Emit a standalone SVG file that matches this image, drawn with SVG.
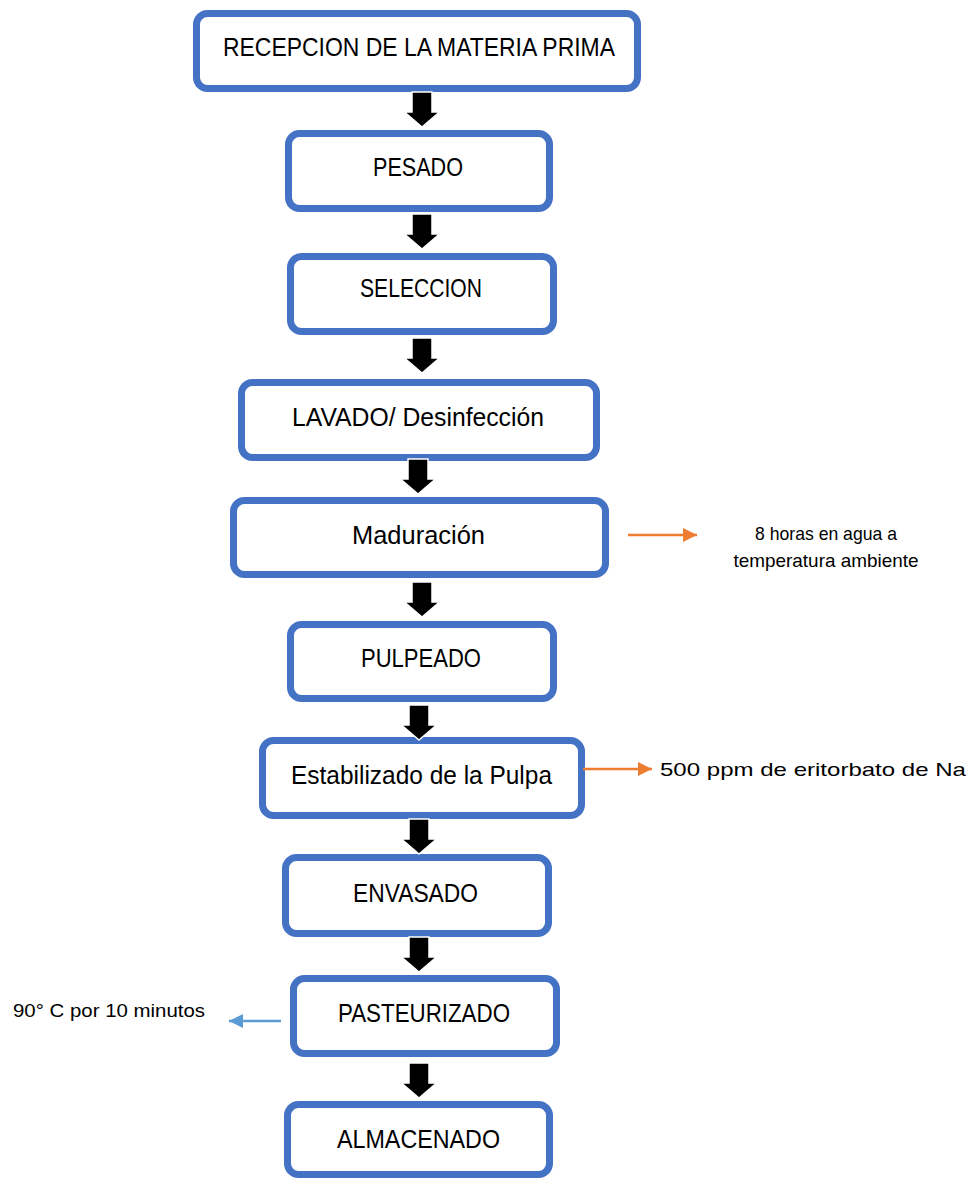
<svg xmlns="http://www.w3.org/2000/svg" xmlns:xlink="http://www.w3.org/1999/xlink" width="974" height="1178" viewBox="0 0 974 1178">
<style>
.box{fill:#fff;stroke:#4472C4;stroke-width:7}
.t{font-family:"Liberation Sans",Arial,sans-serif;font-size:26px;fill:#000;text-anchor:middle}
.s{font-family:"Liberation Sans",Arial,sans-serif;font-size:19px;fill:#000}
.blk{fill:#000;stroke:#fff;stroke-width:1.5}
.or{stroke:#ED7D31;stroke-width:2.5;fill:none}
.bl{stroke:#5B9BD5;stroke-width:2.5;fill:none}
</style>
<defs>
<path id="blk" class="blk" d="M-10,-35 h20 v20 h7.5 L0,0 L-17.5,-15 h7.5 Z"/>
<marker id="mo" markerUnits="userSpaceOnUse" markerWidth="15" markerHeight="15" refX="14" refY="7" orient="auto"><path d="M0,0 L14,7 L0,14 Z" fill="#ED7D31"/></marker>
<marker id="mb" markerUnits="userSpaceOnUse" markerWidth="15" markerHeight="15" refX="14" refY="7" orient="auto"><path d="M0,0 L14,7 L0,14 Z" fill="#5B9BD5"/></marker>
</defs>
<rect width="974" height="1178" fill="#fff"/>
<g id="n1"><rect class="box" x="196.5" y="13.5" width="441" height="75" rx="11"/><text class="t" x="419" y="56" textLength="392" lengthAdjust="spacingAndGlyphs">RECEPCION DE LA MATERIA PRIMA</text></g>
<g id="n2"><rect class="box" x="288.5" y="133.5" width="261" height="75" rx="11"/><text class="t" x="418" y="176" textLength="90" lengthAdjust="spacingAndGlyphs">PESADO</text></g>
<g id="n3"><rect class="box" x="290.5" y="256.5" width="263" height="75" rx="11"/><text class="t" x="421" y="297" textLength="122" lengthAdjust="spacingAndGlyphs">SELECCION</text></g>
<g id="n4"><rect class="box" x="241.5" y="382.5" width="355" height="75" rx="11"/><text class="t" x="418" y="426" textLength="252" lengthAdjust="spacingAndGlyphs">LAVADO/ Desinfección</text></g>
<g id="n5"><rect class="box" x="233.5" y="500.5" width="372" height="74" rx="11"/><text class="t" x="418.5" y="544" textLength="133" lengthAdjust="spacingAndGlyphs">Maduración</text></g>
<g id="n6"><rect class="box" x="290.5" y="624.5" width="263" height="74" rx="11"/><text class="t" x="421" y="667" textLength="120" lengthAdjust="spacingAndGlyphs">PULPEADO</text></g>
<g id="n7"><rect class="box" x="262.5" y="740.5" width="319" height="75" rx="11"/><text class="t" x="421.5" y="784" textLength="261" lengthAdjust="spacingAndGlyphs">Estabilizado de la Pulpa</text></g>
<g id="n8"><rect class="box" x="285.5" y="857.5" width="263" height="76" rx="11"/><text class="t" x="415.5" y="902" textLength="125" lengthAdjust="spacingAndGlyphs">ENVASADO</text></g>
<g id="n9"><rect class="box" x="293.5" y="978.5" width="263" height="75" rx="11"/><text class="t" x="424" y="1022" textLength="172" lengthAdjust="spacingAndGlyphs">PASTEURIZADO</text></g>
<g id="n10"><rect class="box" x="287.5" y="1104.5" width="262" height="70" rx="11"/><text class="t" x="418.5" y="1148" textLength="163" lengthAdjust="spacingAndGlyphs">ALMACENADO</text></g>
<g id="notes">
<text class="s" x="826" y="540" text-anchor="middle" textLength="142" lengthAdjust="spacingAndGlyphs">8 horas en agua a</text>
<text class="s" x="826" y="567" text-anchor="middle" textLength="185" lengthAdjust="spacingAndGlyphs">temperatura ambiente</text>
<text class="s" x="660" y="776" font-size="21" textLength="306" lengthAdjust="spacingAndGlyphs">500 ppm de eritorbato de Na</text>
<text class="s" x="13" y="1017" font-size="20" textLength="192" lengthAdjust="spacingAndGlyphs">90° C por 10 minutos</text>
</g>
<g id="connectors">
<use xlink:href="#blk" x="422" y="127"/>
<use xlink:href="#blk" x="422" y="249"/>
<use xlink:href="#blk" x="422" y="373"/>
<use xlink:href="#blk" x="418" y="494"/>
<use xlink:href="#blk" x="422" y="617"/>
<use xlink:href="#blk" x="419" y="740"/>
<use xlink:href="#blk" x="419" y="854"/>
<use xlink:href="#blk" x="419" y="972"/>
<use xlink:href="#blk" x="419" y="1098"/>
<line class="or" x1="628" y1="535" x2="697" y2="535" marker-end="url(#mo)"/>
<line class="or" x1="583" y1="769" x2="652" y2="769" marker-end="url(#mo)"/>
<line class="bl" x1="281" y1="1021" x2="229" y2="1021" marker-end="url(#mb)"/>
</g>
</svg>
